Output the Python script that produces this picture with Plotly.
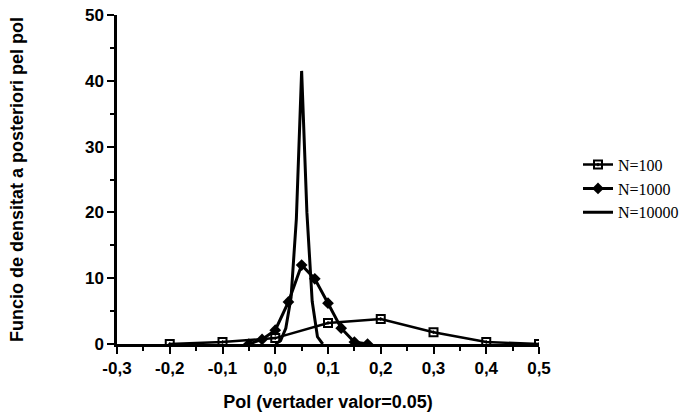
import plotly.graph_objects as go

x_n100 = [-0.2, -0.1, 0.0, 0.1, 0.2, 0.3, 0.4, 0.5]
y_n100 = [0.0, 0.3, 0.9, 3.2, 3.8, 1.8, 0.3, 0.0]

x_n1000 = [-0.05, -0.025, 0.0, 0.025, 0.05, 0.075, 0.1, 0.125, 0.15, 0.175]
y_n1000 = [0.0, 0.7, 2.1, 6.4, 12.0, 9.9, 6.2, 2.4, 0.3, 0.0]

x_n10000 = [0.0, 0.01, 0.02, 0.03, 0.04, 0.05, 0.06, 0.07, 0.08, 0.09]
y_n10000 = [0.0, 0.5, 2.4, 7.1, 19.0, 41.5, 20.0, 6.5, 1.1, 0.0]

names = ["N=100", "N=1000", "N=10000"]

x_tickvals = [-0.3, -0.2, -0.1, 0.0, 0.1, 0.2, 0.3, 0.4, 0.5]
x_ticktext = ["-0,3", "-0,2", "-0,1", "0,0", "0,1", "0,2", "0,3", "0,4", "0,5"]

fig = go.Figure()
fig.add_trace(go.Scatter(x=x_n100, y=y_n100, name=names[0], mode="lines+markers",
                         line=dict(color="black", width=2.5),
                         marker=dict(symbol="square-open-dot", size=8, color="black",
                                     line=dict(width=2, color="black"))))
fig.add_trace(go.Scatter(x=x_n1000, y=y_n1000, name=names[1], mode="lines+markers",
                         line=dict(color="black", width=3),
                         marker=dict(symbol="diamond", size=9, color="black")))
fig.add_trace(go.Scatter(x=x_n10000, y=y_n10000, name=names[2], mode="lines",
                         line=dict(color="black", width=3)))

W, H = 685, 417
ML, MR, MT, MB = 117, 5, 15, 73
paper_w = W - ML - MR
plot_w = 539 - ML

tick_font = dict(family="Liberation Sans, Arial", size=17, color="black", weight="bold")
title_font = dict(family="Liberation Sans, Arial", size=18, color="black", weight="bold")
fig.update_layout(
    width=W, height=H,
    margin=dict(l=ML, r=MR, t=MT, b=MB, autoexpand=False),
    paper_bgcolor="white", plot_bgcolor="white",
    showlegend=True,
    legend=dict(x=(578 - ML) / paper_w, y=0.472, xanchor="left", yanchor="middle",
                font=dict(family="Liberation Serif, Times New Roman", size=16, color="black"),
                itemwidth=30, tracegroupgap=0, bgcolor="rgba(0,0,0,0)"),
    xaxis=dict(domain=[0, plot_w / paper_w], range=[-0.3, 0.5],
               tickvals=x_tickvals, ticktext=x_ticktext, automargin=False,
               showgrid=False, zeroline=False, showline=True, linecolor="black", linewidth=2.5,
               ticks="outside", ticklen=7, tickwidth=2, tickcolor="black",
               minor=dict(dtick=0.05, tick0=-0.3, ticks="outside", ticklen=4, tickwidth=2, tickcolor="black"),
               tickfont=tick_font,
               title=dict(text="Pol (vertader valor=0.05)", font=title_font, standoff=19)),
    yaxis=dict(range=[0, 50], dtick=10, automargin=False,
               showgrid=False, zeroline=False, showline=True,
               linecolor="black", linewidth=2.5,
               ticks="outside", ticklen=7, tickwidth=2, tickcolor="black",
               minor=dict(dtick=5, ticks="outside", ticklen=4, tickwidth=2, tickcolor="black"),
               tickfont=tick_font,
               title=dict(text="Funcio de densitat a posteriori pel pol", font=title_font, standoff=57)),
)

fig.write_html("out.html")
